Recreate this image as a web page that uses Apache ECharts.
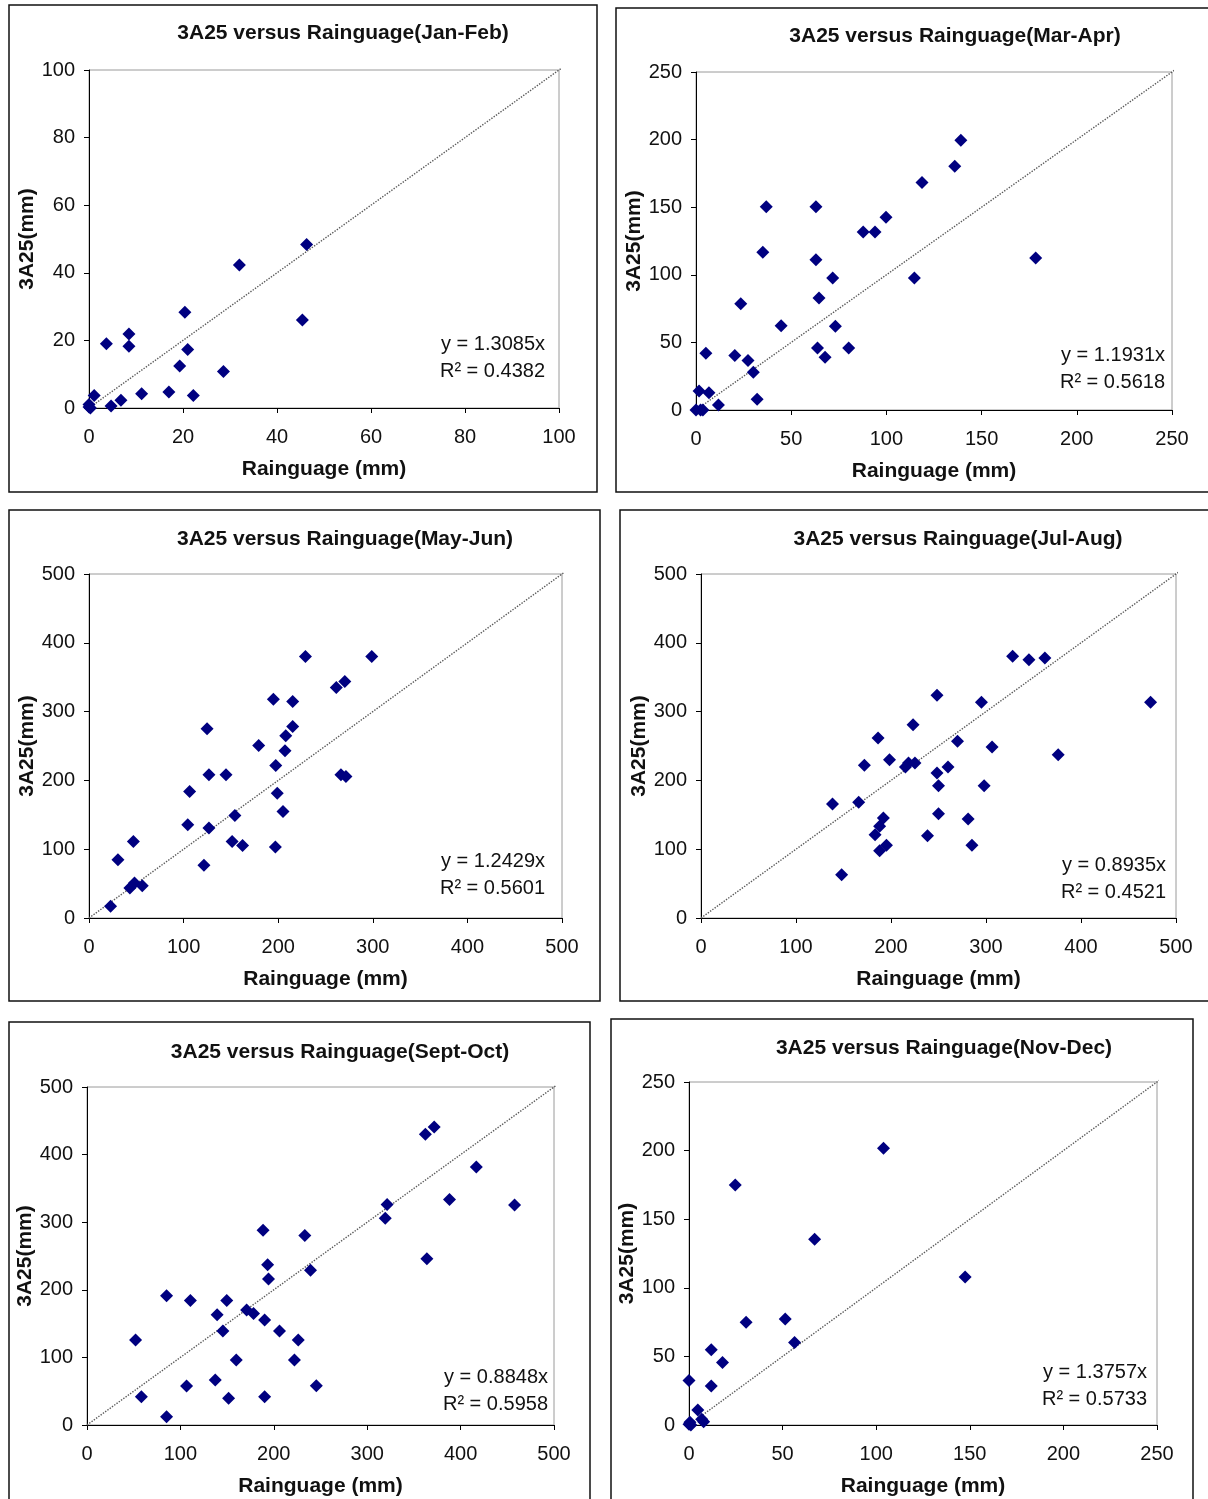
<!DOCTYPE html>
<html>
<head>
<meta charset="utf-8">
<script src="https://cdn.jsdelivr.net/npm/echarts@6/dist/echarts.min.js"></script>
<style>
  html, body { margin: 0; padding: 0; background: #fff; }
  #chart { width: 1208px; height: 1499px; }
</style>
</head>
<body>
<div id="chart"></div>
<script>
// Rainguage (x) against 3A25 (y), both in mm, one pair of arrays per period
const janFebRain = [0, 0.3, 0, 1.1, 3.7, 4.7, 6.8, 8.5, 8.5, 11.2, 17.0, 19.3, 20.4, 21.0, 22.2, 28.6, 32.0, 45.4, 46.3];
const janFebA25 = [0.3, 0, 1, 3.7, 19.0, 0.6, 2.3, 21.9, 18.3, 4.2, 4.7, 12.4, 28.3, 17.3, 3.7, 10.8, 42.3, 26.0, 48.4];

const marAprRain = [0, 1.6, 2.4, 3.6, 6.8, 5.2, 11.8, 20.4, 23.5, 27.3, 30.1, 32.1, 35.1, 36.9, 44.7, 63.0, 63.0, 63.8, 64.6, 67.8, 71.8, 73.2, 80.2, 87.8, 94.0, 99.8, 114.7, 118.7, 135.9, 139.1, 178.4];
const marAprA25 = [0, 14.1, 0, 0, 12.8, 42.0, 3.7, 40.3, 78.6, 36.6, 27.9, 7.9, 116.6, 150.4, 62.3, 150.4, 111.2, 45.9, 82.8, 39.0, 97.6, 62.0, 45.9, 131.7, 131.7, 142.5, 97.6, 168.2, 180.3, 199.6, 112.4];

const mayJunRain = [22.8, 30.6, 43.2, 46.9, 48.1, 56.3, 104.4, 106.4, 121.5, 124.8, 126.8, 126.8, 144.8, 151.3, 154.2, 162.3, 179.4, 194.9, 197.0, 197.4, 199.0, 205.1, 207.2, 208.0, 215.3, 215.3, 228.8, 261.4, 270.4, 266.3, 271.6, 298.9];
const mayJunA25 = [16.9, 84.7, 43.6, 111.3, 50.8, 47.0, 135.5, 183.9, 76.5, 274.9, 130.7, 208.1, 208.1, 111.3, 149.1, 105.5, 250.7, 318.0, 103.1, 221.7, 181.5, 154.9, 243.0, 264.8, 314.6, 278.3, 380.0, 334.9, 343.7, 208.1, 205.7, 380.0];

const julAugRain = [138.4, 148.0, 166.0, 172.0, 183.2, 186.4, 188.0, 188.0, 192.0, 195.2, 198.4, 215.2, 218.4, 225.2, 223.2, 238.4, 248.4, 248.4, 250.0, 250.0, 260.0, 270.0, 281.2, 285.2, 295.2, 298.0, 306.4, 328.0, 345.2, 362.0, 376.0, 473.2];
const julAugA25 = [165.7, 63.0, 168.1, 221.9, 121.1, 261.6, 133.2, 97.9, 145.3, 105.6, 230.1, 219.5, 225.3, 225.3, 281.0, 119.7, 323.6, 210.8, 192.3, 151.6, 219.5, 256.8, 143.9, 105.6, 313.5, 192.3, 248.5, 380.3, 375.5, 377.9, 237.4, 313.5];

const septOctRain = [52.0, 58.2, 85.2, 85.2, 106.6, 110.7, 137.3, 139.3, 145.5, 149.6, 151.6, 159.8, 170.9, 178.3, 188.5, 190.2, 190.2, 193.4, 194.3, 206.1, 222.1, 226.2, 233.2, 239.3, 245.5, 319.3, 321.3, 362.3, 363.9, 371.7, 388.1, 416.8, 457.8];
const septOctA25 = [125.6, 41.9, 191.1, 12.3, 57.6, 184.2, 66.5, 163.1, 138.9, 184.2, 39.4, 96.1, 170.0, 165.0, 288.2, 155.2, 41.9, 236.9, 215.8, 138.9, 96.1, 125.6, 280.3, 229.1, 58.1, 305.9, 326.1, 430.0, 245.8, 440.9, 333.5, 381.8, 325.6];

const novDecRain = [0, 0, 0.5, 1, 4.7, 6.8, 7.8, 11.9, 11.9, 17.9, 24.7, 30.5, 51.4, 56.4, 67.1, 103.9, 147.5];
const novDecA25 = [32.4, 0.5, 2, 0, 11.0, 4.1, 2.4, 54.9, 28.5, 45.6, 174.9, 74.9, 77.3, 60.2, 135.4, 201.7, 107.8];

const periods = ['Jan-Feb', 'Mar-Apr', 'May-Jun', 'Jul-Aug', 'Sept-Oct', 'Nov-Dec'];
const axisMax = [100, 250, 500, 500, 500, 250];
const axisStep = [20, 50, 100, 100, 100, 50];
const slopes = ['1.3085', '1.1931', '1.2429', '0.8935', '0.8848', '1.3757'];
const rSquared = ['0.4382', '0.5618', '0.5601', '0.4521', '0.5958', '0.5733'];

const rainSets = [janFebRain, marAprRain, mayJunRain, julAugRain, septOctRain, novDecRain];
const a25Sets = [janFebA25, marAprA25, mayJunA25, julAugA25, septOctA25, novDecA25];

// page layout of the six framed panels
const panels = [
  { box: [9, 5, 588, 487], grid: [89, 70, 470, 338], title: [343, 33], eq: [545, 344] },
  { box: [616, 8, 600, 484], grid: [696, 72, 476, 338], title: [955, 36], eq: [1165, 355] },
  { box: [9, 510, 591, 491], grid: [89, 574, 473, 344], title: [345, 539], eq: [545, 861] },
  { box: [620, 510, 600, 491], grid: [701, 574, 475, 344], title: [958, 539], eq: [1166, 865] },
  { box: [9, 1022, 581, 490], grid: [87, 1087, 467, 338], title: [340, 1052], eq: [548, 1377] },
  { box: [611, 1019, 582, 490], grid: [689, 1082, 468, 343], title: [944, 1048], eq: [1147, 1372] },
];

const FONT = "'Liberation Sans', Arial, sans-serif";
const markColor = '#000080';

function textEl(x, y, text, font, align) {
  return {
    type: 'text',
    x: x,
    y: y,
    silent: true,
    style: {
      text: text,
      font: font,
      fill: '#111',
      align: align,
      textAlign: align,
      verticalAlign: 'middle',
      textVerticalAlign: 'middle',
    },
  };
}

const grids = [];
const xAxes = [];
const yAxes = [];
const series = [];
const graphics = [];

panels.forEach((p, i) => {
  grids.push({
    left: p.grid[0],
    top: p.grid[1],
    width: p.grid[2],
    height: p.grid[3],
    show: true,
    borderColor: '#9a9a9a',
    borderWidth: 1,
    containLabel: false,
  });

  const axisCommon = {
    type: 'value',
    gridIndex: i,
    min: 0,
    max: axisMax[i],
    interval: axisStep[i],
    splitLine: { show: false },
    axisLine: { show: true, onZero: false, lineStyle: { color: '#000', width: 1 } },
    axisTick: { show: true, inside: false, length: 5, lineStyle: { color: '#000' } },
    nameLocation: 'middle',
    nameTextStyle: { color: '#111', fontFamily: FONT, fontSize: 21, fontWeight: 'bold' },
  };

  xAxes.push(Object.assign({}, axisCommon, {
    name: 'Rainguage (mm)',
    nameGap: 51,
    axisLabel: { color: '#111', fontFamily: FONT, fontSize: 20, margin: 19 },
  }));
  yAxes.push(Object.assign({}, axisCommon, {
    name: '3A25(mm)',
    nameGap: 51,
    nameRotate: 90,
    axisLabel: { color: '#111', fontFamily: FONT, fontSize: 20, margin: 14 },
  }));

  const lim = axisMax[i] * 1.02;
  series.push({
    type: 'line',
    xAxisIndex: i,
    yAxisIndex: i,
    data: [[0, 0], [lim, lim]],
    showSymbol: false,
    symbol: 'none',
    clip: false,
    silent: true,
    z: 1,
    lineStyle: { type: 'dotted', color: '#5a5a5a', width: 1.4 },
  });

  series.push({
    type: 'scatter',
    xAxisIndex: i,
    yAxisIndex: i,
    data: rainSets[i].map((r, k) => [r, a25Sets[i][k]]),
    symbol: 'diamond',
    symbolSize: 13,
    z: 2,
    itemStyle: { color: markColor, opacity: 1 },
  });

  graphics.push({
    type: 'rect',
    silent: true,
    shape: { x: p.box[0], y: p.box[1], width: p.box[2], height: p.box[3] },
    style: { fill: 'none', stroke: '#111', lineWidth: 1.5 },
  });
  graphics.push(textEl(p.title[0], p.title[1], '3A25 versus Rainguage(' + periods[i] + ')', 'bold 21px ' + FONT, 'center'));
  graphics.push(textEl(p.eq[0], p.eq[1], 'y = ' + slopes[i] + 'x', '20px ' + FONT, 'right'));
  graphics.push(textEl(p.eq[0], p.eq[1] + 27, 'R\u00b2 = ' + rSquared[i], '20px ' + FONT, 'right'));
});

const myChart = echarts.init(document.getElementById('chart'));
const option = {
  animation: false,
  backgroundColor: '#fff',
  grid: grids,
  xAxis: xAxes,
  yAxis: yAxes,
  series: series,
  graphic: graphics,
};

option && myChart.setOption(option);
</script>
</body>
</html>
